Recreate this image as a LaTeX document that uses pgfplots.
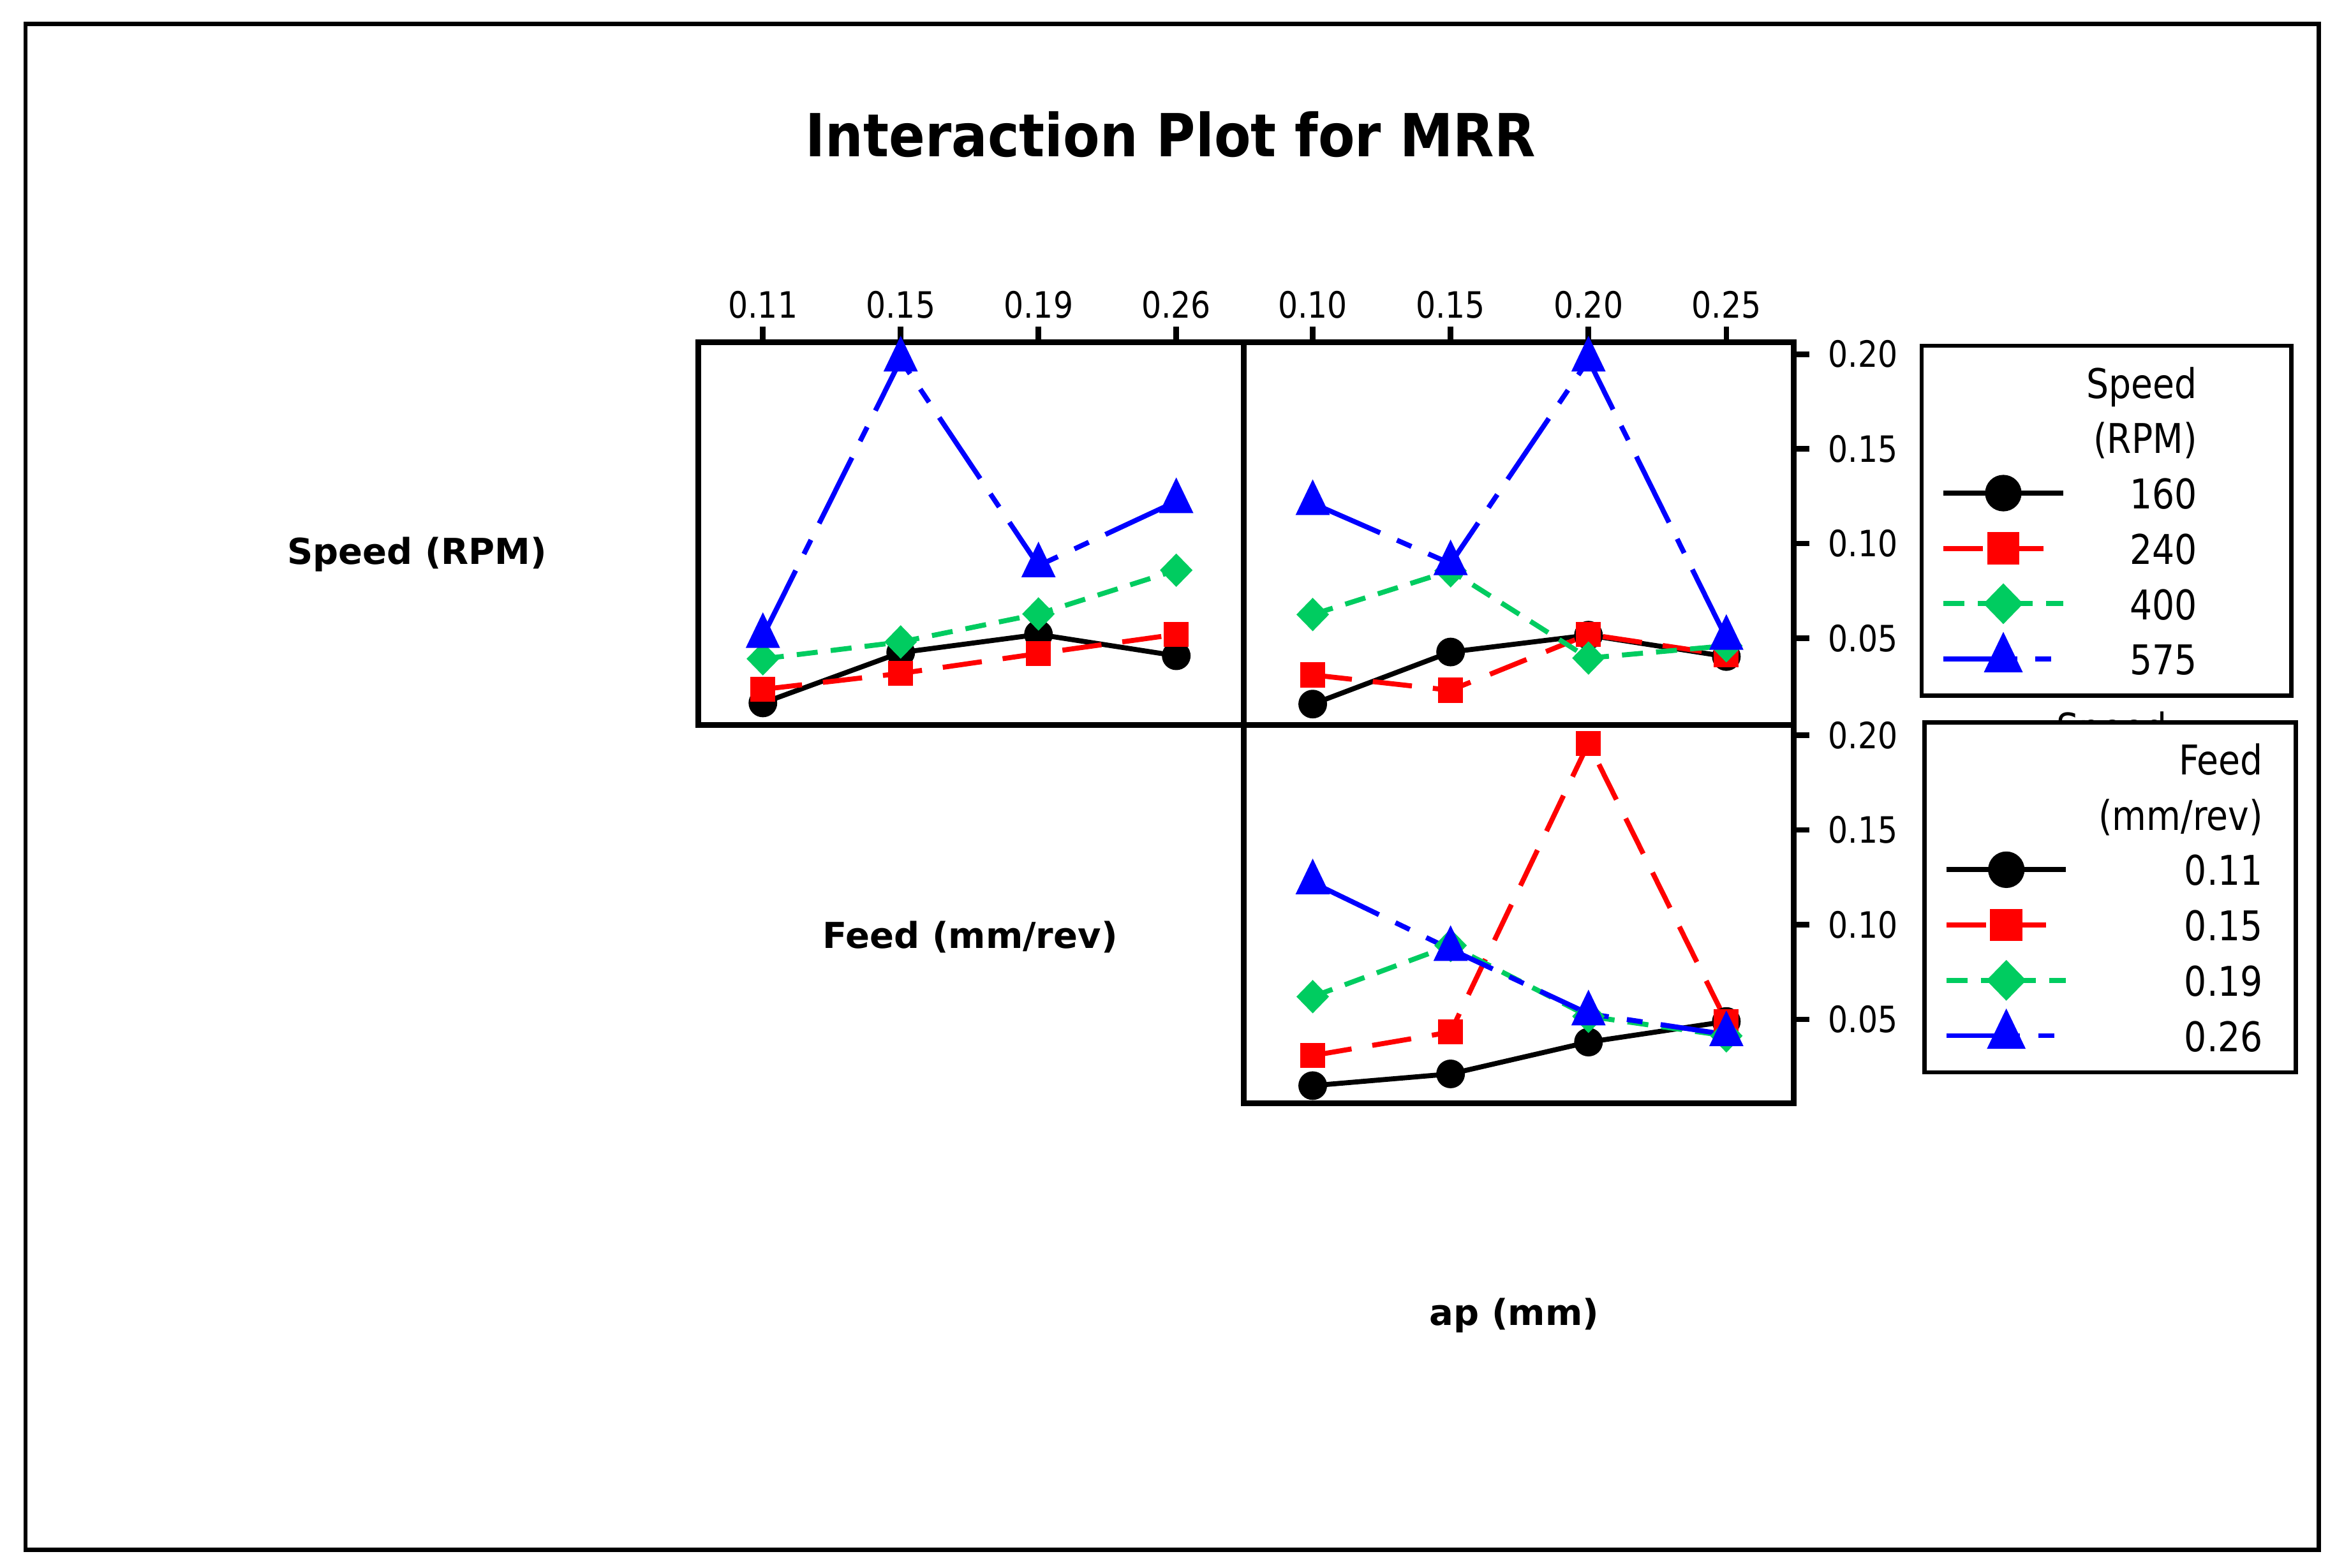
\documentclass[border=0pt]{standalone}
\usepackage{pgfplots}
\pgfplotsset{compat=1.18}
\usepackage{fontspec}
\setmainfont{DejaVu Sans}
\newfontfamily\narrowfont{DejaVu Sans}[FakeStretch=0.86]
\newfontfamily\titlefont{DejaVu Sans}[FakeStretch=0.9]
\definecolor{mgreen}{RGB}{0,204,96}
\definecolor{mred}{RGB}{255,0,0}
\definecolor{mblue}{RGB}{0,0,255}
\newcommand\tickfont{\narrowfont\fontsize{6.9pt}{8pt}\selectfont}
\newcommand\legfont{\narrowfont\fontsize{7.8pt}{9pt}\selectfont}
\newcommand\labfont{\bfseries\fontsize{6.8pt}{8pt}\selectfont}
\newcommand\la[1]{\makebox[12.1mm][l]{\makebox[7.1mm][r]{#1}}}
\newcommand\lb[1]{\makebox[12.2mm][l]{\makebox[11.3mm][r]{#1}}}

\pgfplotsset{
  panel/.style={
    scale only axis,
    xmin=-0.5, xmax=3.49,
    ymin=0.0042, ymax=0.2063,
    axis line style={line width=1.05pt},
    tick style={line width=1.05pt, black},
    tick align=outside,
    major tick length=3pt,
    ticklabel style={font=\tickfont},
    xticklabel style={yshift=-0.7mm},
    /pgf/number format/assume math mode=true,
    clip=false,
  },
  s1/.style={black, line width=0.95pt, solid, mark=*, mark size=2.25pt, mark options={solid}},
  s2/.style={mred, line width=0.95pt, dash pattern=on 7.5pt off 4pt, mark=square*, mark size=1.9pt, mark options={solid}},
  s3/.style={mgreen, line width=0.95pt, dash pattern=on 4pt off 2.5pt, mark=diamond*, mark size=2.5pt, mark options={solid, xscale=1.3}},
  s4/.style={mblue, line width=0.95pt, dash pattern=on 14pt off 3.5pt on 3pt off 3.5pt, mark=triangle*, mark size=2.9pt, mark options={solid, yscale=1.2}},
  mylegend/.style={
    legend cell align=left,
    legend image code/.code={\draw[mark repeat=2,mark phase=2] plot coordinates {(0mm,0mm) (4mm,0mm) (8mm,0mm)};},
  },
}

\begin{document}
\begin{tikzpicture}
\path (0,0) rectangle (15.68,10.49);
\draw[line width=0.8pt] (0.17,0.12) rectangle (15.51,10.33);
\node[font=\titlefont\bfseries\fontsize{11.3pt}{13pt}\selectfont] at (7.83,9.59) {Interaction Plot for MRR};
\node[font=\labfont] at (2.79,6.78) {Speed (RPM)};
\node[font=\labfont] at (6.49,4.22) {Feed (mm/rev)};
\node[font=\labfont] at (10.13,1.69) {ap (mm)};

% Top-left: Speed lines vs Feed
\begin{axis}[panel, at={(4.67cm,5.64cm)}, anchor=south west,
  width=3.65cm, height=2.56cm, xmin=-0.47,
  xtick={0,1,2,3}, xticklabels={0.11,0.15,0.19,0.26},
  xtick pos=right, xticklabel pos=right, ytick=\empty]
\addplot[s1] coordinates {(0,0.0158) (1,0.0424) (2,0.0520) (3,0.0407)};
\addplot[s2] coordinates {(0,0.0230) (1,0.0314) (2,0.0419) (3,0.0520)};
\addplot[s3] coordinates {(0,0.0391) (1,0.0480) (2,0.0628) (3,0.0859)};
\addplot[s4] coordinates {(0,0.0510) (1,0.1970) (2,0.0883) (3,0.1222)};
\end{axis}

% Top-right: Speed lines vs ap
\begin{axis}[panel, mylegend, at={(8.32cm,5.64cm)}, anchor=south west,
  width=3.68cm, height=2.56cm,
  xtick={0,1,2,3}, xticklabels={0.10,0.15,0.20,0.25},
  xtick pos=right, xticklabel pos=right,
  ytick={0.05,0.10,0.15,0.20}, yticklabels={0.05,0.10,0.15,0.20},
  ytick pos=right, yticklabel pos=right,
  legend style={at={(1.2283,0.996)}, anchor=north west, draw=black, line width=0.8pt, fill=white,
    inner xsep=1.3mm, inner ysep=0.6mm, column sep=1.7mm, row sep=0pt, font=\legfont,
    nodes={inner sep=0pt, text height=2.9mm, text depth=0.8mm}}]
\addlegendimage{empty legend}\addlegendentry{\la{Speed}}
\addlegendimage{empty legend}\addlegendentry{\la{(RPM)}}
\addlegendimage{s1, mark size=3pt}\addlegendentry{\la{160}}
\addlegendimage{s2, mark size=2.6pt}\addlegendentry{\la{240}}
\addlegendimage{s3, mark size=3.2pt}\addlegendentry{\la{400}}
\addlegendimage{s4, mark size=3.4pt}\addlegendentry{\la{575}}
\addplot[s1, forget plot] coordinates {(0,0.0152) (1,0.0427) (2,0.0516) (3,0.0403)};
\addplot[s2, forget plot] coordinates {(0,0.0306) (1,0.0225) (2,0.0520) (3,0.0411)};
\addplot[s3, forget plot] coordinates {(0,0.0625) (1,0.0856) (2,0.0395) (3,0.0460)};
\addplot[s4, forget plot] coordinates {(0,0.1212) (1,0.0894) (2,0.1970) (3,0.0500)};
\end{axis}

\node[font=\legfont, anchor=base east] at (14.62,5.52) {Speed};

% Bottom-right: Feed lines vs ap
\begin{axis}[panel, mylegend, at={(8.32cm,3.11cm)}, anchor=south west,
  width=3.68cm, height=2.53cm, ymin=0.0058, ymax=0.2055,
  xtick=\empty,
  ytick={0.05,0.10,0.15,0.20}, yticklabels={0.05,0.10,0.15,0.20},
  ytick pos=right, yticklabel pos=right,
  legend style={at={(1.2337,1.0119)}, anchor=north west, draw=black, line width=0.8pt, fill=white,
    inner xsep=1.3mm, inner ysep=0.6mm, column sep=1.7mm, row sep=0pt, font=\legfont,
    nodes={inner sep=0pt, text height=2.9mm, text depth=0.8mm}}]
\addlegendimage{empty legend}\addlegendentry{\lb{Feed}}
\addlegendimage{empty legend}\addlegendentry{\lb{(mm/rev)}}
\addlegendimage{s1, mark size=3pt}\addlegendentry{\lb{0.11}}
\addlegendimage{s2, mark size=2.6pt}\addlegendentry{\lb{0.15}}
\addlegendimage{s3, mark size=3.2pt}\addlegendentry{\lb{0.19}}
\addlegendimage{s4, mark size=3.4pt}\addlegendentry{\lb{0.26}}
\addplot[s1, forget plot] coordinates {(0,0.0150) (1,0.0212) (2,0.0380) (3,0.0489)};
\addplot[s2, forget plot] coordinates {(0,0.0309) (1,0.0433) (2,0.1958) (3,0.0489)};
\addplot[s3, forget plot] coordinates {(0,0.0620) (1,0.0890) (2,0.0516) (3,0.0413)};
\addplot[s4, forget plot] coordinates {(0,0.1222) (1,0.0870) (2,0.0530) (3,0.0420)};
\end{axis}
\end{tikzpicture}
\end{document}
